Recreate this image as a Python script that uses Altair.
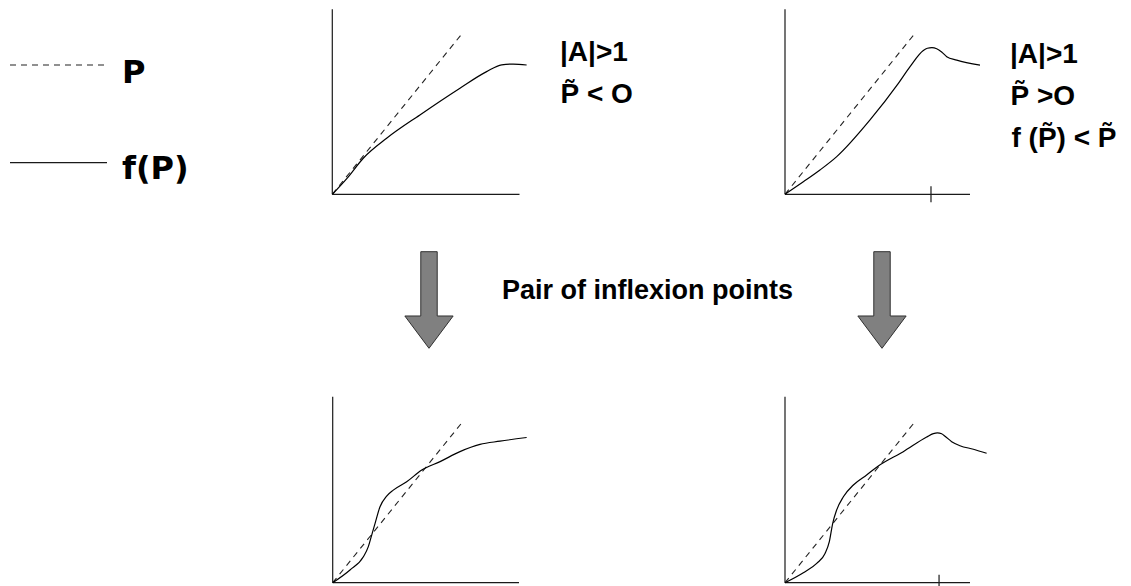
import altair as alt
import pandas as pd

W, H = 1131, 586
UX, UY = 130.0, 161.0  # canvas pixels per unit of P (across) and of f (up)

# Sketched f(P) curves; the dashed reference in every sketch is f = P
tl_P = [0, 0.113, 0.238, 0.418, 0.674, 0.982, 1.187, 1.303, 1.392, 1.495]
tl_f = [0, 0.099, 0.224, 0.348, 0.493, 0.659, 0.762, 0.804, 0.809, 0.803]

tr_P = [0, 0.141, 0.269, 0.398, 0.654, 0.872, 0.962, 1.064, 1.095, 1.130, 1.167, 1.205, 1.244, 1.321, 1.5]
tr_f = [0, 0.078, 0.151, 0.234, 0.462, 0.689, 0.793, 0.893, 0.907, 0.911, 0.904, 0.884, 0.855, 0.833, 0.802]

bl_P = [0, 0.133, 0.236, 0.274, 0.300, 0.326, 0.364, 0.415, 0.466, 0.569, 0.685, 0.826, 0.979, 1.133, 1.287, 1.492]
bl_f = [0, 0.079, 0.161, 0.224, 0.296, 0.369, 0.472, 0.538, 0.575, 0.627, 0.700, 0.752, 0.814, 0.859, 0.879, 0.902]

br_P = [0, 0.141, 0.244, 0.308, 0.341, 0.367, 0.397, 0.449, 0.526, 0.628, 0.718, 0.910, 1.090, 1.141,
        1.172, 1.205, 1.231, 1.282, 1.346, 1.449, 1.551]
br_f = [0, 0.062, 0.120, 0.182, 0.255, 0.369, 0.451, 0.534, 0.607, 0.669, 0.725, 0.814, 0.905, 0.926,
        0.931, 0.925, 0.910, 0.876, 0.851, 0.829, 0.804]

# Where each sketch sits: origin on the canvas, axis extents, and an optional tick on the P axis
panels = {
    "tl": dict(ox=332.3, oy=194.3, xmax=1.44, ymax=1.149, tick=None, P=tl_P, f=tl_f),
    "tr": dict(ox=785.0, oy=194.3, xmax=1.423, ymax=1.149, tick=1.123, P=tr_P, f=tr_f),
    "bl": dict(ox=332.7, oy=582.7, xmax=1.433, ymax=1.155, tick=None, P=bl_P, f=bl_f),
    "br": dict(ox=785.0, oy=582.7, xmax=1.423, ymax=1.155, tick=1.185, P=br_P, f=br_f),
}
TICK_HALF = 0.05  # in f units

curve_rows, diag_rows, axis_rows = [], [], []
for name, p in panels.items():
    ox, oy = p["ox"], p["oy"]
    for i, (P, f) in enumerate(zip(p["P"], p["f"])):
        curve_rows.append(dict(panel=name, i=i, x=ox + P * UX, y=oy - f * UY))
    diag_rows.append(dict(panel=name, x=ox, y=oy, x2=ox + 1.0 * UX, y2=oy - 1.0 * UY))
    axis_rows.append(dict(x=ox, y=oy, x2=ox, y2=oy - p["ymax"] * UY))
    axis_rows.append(dict(x=ox, y=oy, x2=ox + p["xmax"] * UX, y2=oy))
    if p["tick"] is not None:
        tx = ox + p["tick"] * UX
        axis_rows.append(dict(x=tx, y=oy + TICK_HALF * UY, x2=tx, y2=oy - TICK_HALF * UY))

curves = pd.DataFrame(curve_rows)
diags = pd.DataFrame(diag_rows)
axes_df = pd.DataFrame(axis_rows)

# Legend keys
legend_dash = pd.DataFrame([dict(x=10, y=65, x2=107, y2=65)])
legend_solid = pd.DataFrame([dict(x=10, y=162.7, x2=107, y2=162.7)])
legend_text = pd.DataFrame([
    dict(text="P", x=122, y=82.7, size=32),
    dict(text="f(P)", x=122, y=179.3, size=32),
])

# Conditions written next to the sketches (P\u0303 is P with a tilde), and the caption
labels = pd.DataFrame([
    dict(text="|A|>1", x=560.0, y=61.0, size=28),
    dict(text="P\u0303 < O", x=560.5, y=103.3, size=28),
    dict(text="|A|>1", x=1010.0, y=63.3, size=28),
    dict(text="P\u0303 >O", x=1010.5, y=105.0, size=28),
    dict(text="f (P\u0303) < P\u0303", x=1011.5, y=146.7, size=28),
    dict(text="Pair of inflexion points", x=502.0, y=299.3, size=27),
])

# Downward arrows
arrows = pd.DataFrame([dict(x=429.0, y=300.0), dict(x=882.0, y=300.0)])
ARROW_PATH = ("M -0.17 -1 L 0.17 -1 L 0.17 0.331 L 0.5 0.331 L 0 1 "
              "L -0.5 0.331 L -0.17 0.331 Z")

xs = alt.Scale(domain=[0, W], nice=False, zero=False)
ys = alt.Scale(domain=[0, H], reverse=True, nice=False, zero=False)
X = alt.X("x:Q", scale=xs, axis=None)
Y = alt.Y("y:Q", scale=ys, axis=None)

SANS = "Liberation Sans, Arial, Helvetica, sans-serif"


def segs(df, **mark):
    return alt.Chart(df).mark_rule(**mark).encode(x=X, y=Y, x2="x2:Q", y2="y2:Q")


axes_layer = segs(axes_df, color="#1a1a1a", strokeWidth=1.2)
diag_layer = segs(diags, color="#222222", strokeWidth=1.1, strokeDash=[6, 5])
curve_layer = alt.Chart(curves).mark_line(
    color="#000000", strokeWidth=1.2, interpolate="monotone"
).encode(x=X, y=Y, detail="panel:N", order=alt.Order("i:Q"))

leg_dash = segs(legend_dash, color="#222222", strokeWidth=1.1, strokeDash=[6, 5])
leg_solid = segs(legend_solid, color="#1a1a1a", strokeWidth=1.2)
leg_text = alt.Chart(legend_text).mark_text(
    align="left", baseline="alphabetic", font="DejaVu Sans", fontWeight="bold", color="#000000"
).encode(x=X, y=Y, text="text:N", size=alt.Size("size:Q", scale=None, legend=None))

label_layer = alt.Chart(labels).mark_text(
    align="left", baseline="alphabetic", font=SANS, fontWeight="bold", color="#000000"
).encode(x=X, y=Y, text="text:N", size=alt.Size("size:Q", scale=None, legend=None))

arrow_layer = alt.Chart(arrows).mark_point(
    shape=ARROW_PATH, size=9332, filled=True, fill="#808080", stroke="#303030",
    strokeWidth=1, opacity=1, fillOpacity=1
).encode(x=X, y=Y)

chart = alt.layer(
    axes_layer, diag_layer, curve_layer, leg_dash, leg_solid, leg_text,
    label_layer, arrow_layer
).properties(
    width=W, height=H, padding=0, background="#ffffff",
    autosize=alt.AutoSizeParams(type="none"),
).configure_view(stroke=None)

chart.save("out.html", embed_options={"renderer": "svg", "actions": False})
